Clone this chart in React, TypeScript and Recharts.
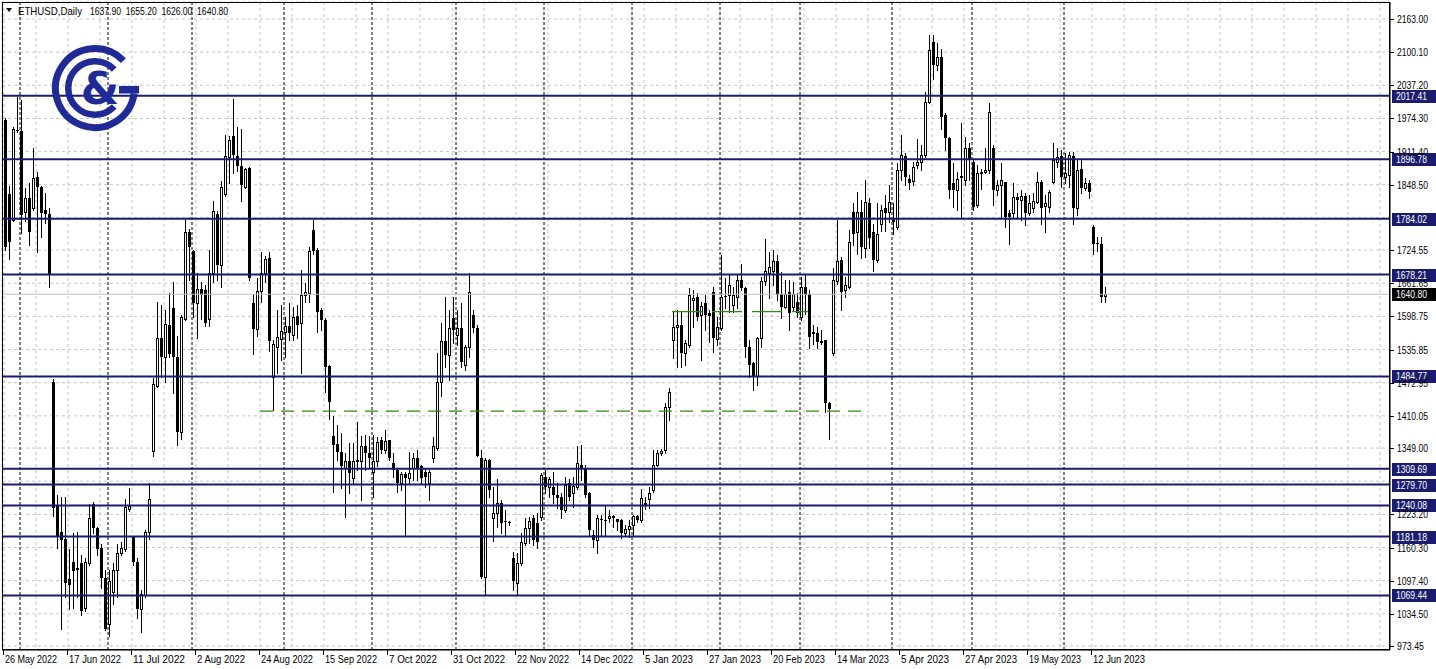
import React from 'react';
import { ComposedChart, Bar, XAxis, YAxis, CartesianGrid, ReferenceLine } from 'recharts';

// ETHUSD daily candles (weekdays), 26 May 2022 .. 16 Jun 2023
const opens = [
  1971,1831,1782,1952,1950,1797,1824,1804,1863,1844,1800,1793,
  1474,1240,1190,1177,1101,1133,1122,1130,1046,1130,1243,1197,1160,1103,1016,1076,1117,1150,1157,1233,1180,1133,1043,1070,1190,
  1343,1467,1557,1521,1582,1614,1521,1380,1594,1758,1722,1624,1650,1648,1594,1681,1793,1696,1831,1901,1941,1903,1885,1845,1880,1624,1575,1647,1681,1709,1484,1541,
  1555,1570,1581,1564,1600,1586,1639,1643,1763,1725,1610,1592,1505,1371,1357,1342,1311,1325,1292,1325,1325,1352,1339,1303,1325,1364,1345,1364,1320,1307,1282,1300,1293,1311,1330,1315,1304,1282,1331,
  1350,1474,1553,1526,1595,1563,1576,1507,1541,1601,1576,1330,1105,1326,1217,1226,1245,1211,1209,1140,1093,1130,1168,1197,1216,1206,1219,1295,1276,1276,
  1260,1257,1231,1282,1263,1276,1317,1310,1263,1184,1175,1214,1213,1216,1221,1215,1212,1187,1195,1203,1220,1212,1245,1252,1269,1317,1339,1345,1426,
  1554,1579,1582,1529,1545,1630,1636,1601,1624,1605,1646,1555,1576,1637,1639,1620,1636,1668,1652,1541,1510,1486,1557,1665,1681,1684,1703,1642,1617,1646,1617,1627,1598,1655,1642,1568,1567,1550,1554,1434,1529,
  1665,1706,1649,1655,1797,1759,1797,1728,1813,1759,1706,1775,1804,1797,1785,1769,1876,1903,1859,1856,1886,1892,1905,2006,2120,2076,2091,1981,1937,1851,1839,1863,1857,1918,1892,1810,1870,1873,1876,1918,1839,1848,1854,1795,1794,1826,1819,1827,1795,1804,1816,1854,1808,1807,1854,1892,1903,1864,1867,1903,1804,1878,1842,1851,1769,1738,1737,1637.9,
];
const highs = [
  1975,1846,1958,2015,2009,1842,1852,1918,1873,1846,1833,1804,
  1480,1260,1257,1257,1157,1187,1190,1147,1140,1243,1247,1200,1167,1117,1117,1130,1167,1170,1253,1273,1180,1140,1080,1193,1283,
  1481,1627,1621,1611,1644,1664,1561,1601,1781,1764,1724,1681,1664,1658,1724,1818,1798,1856,1942,1941,2012,1958,1955,1881,1883,1641,1671,1721,1714,1721,1554,1611,
  1620,1598,1624,1617,1620,1687,1662,1731,1782,1728,1614,1595,1507,1409,1393,1377,1339,1358,1358,1399,1371,1374,1371,1374,1370,1370,1383,1364,1339,1310,1304,1304,1342,1339,1345,1317,1310,1307,1370,
  1529,1586,1636,1611,1636,1611,1624,1545,1681,1611,1582,1345,1330,1329,1276,1291,1250,1231,1210,1152,1149,1187,1216,1219,1222,1225,1301,1307,1295,1304,
  1282,1263,1295,1291,1295,1352,1355,1317,1266,1193,1222,1222,1241,1231,1222,1215,1215,1203,1212,1222,1222,1272,1257,1276,1345,1345,1348,1434,1462,
  1608,1611,1608,1554,1652,1649,1643,1626,1639,1611,1655,1598,1715,1671,1680,1655,1680,1699,1655,1554,1513,1560,1674,1745,1721,1724,1715,1683,1668,1668,1664,1643,1674,1680,1649,1582,1579,1573,1554,1437,1690,
  1782,1712,1674,1763,1813,1835,1819,1858,1823,1775,1813,1810,1829,1848,1813,1890,1943,1908,1867,1892,1936,1924,2025,2133,2133,2117,2107,1984,1940,1889,1873,1965,1940,1927,1895,1886,1879,1918,2003,1924,1857,1889,1854,1800,1851,1832,1838,1832,1829,1832,1873,1857,1829,1838,1927,1918,1914,1908,1911,1911,1898,1898,1861,1857,1772,1750,1750,1655.2,
];
const lows = [
  1725,1708,1779,1948,1757,1780,1734,1801,1721,1750,1776,1654,
  1220,1160,1006,1066,1043,1046,1066,1033,1040,1127,1187,1147,1083,1003,993,1053,1066,1147,1153,1230,1127,1026,1000,1066,1177,
  1334,1464,1484,1474,1521,1454,1354,1367,1591,1668,1597,1557,1594,1581,1581,1664,1668,1654,1828,1851,1871,1875,1818,1843,1668,1527,1561,1627,1664,1534,1421,1491,
  1516,1522,1554,1554,1557,1491,1627,1627,1718,1570,1573,1456,1405,1266,1326,1273,1219,1263,1282,1307,1250,1307,1313,1257,1314,1339,1339,1326,1295,1266,1269,1184,1282,1288,1288,1282,1275,1250,1323,
  1345,1447,1503,1478,1548,1545,1503,1497,1522,1570,1333,1102,1073,1257,1172,1200,1187,1184,1203,1080,1073,1127,1165,1168,1165,1159,1212,1263,1257,1244,
  1235,1216,1228,1250,1238,1272,1288,1257,1184,1162,1149,1184,1184,1209,1200,1193,1178,1184,1181,1184,1209,1209,1234,1235,1266,1314,1336,1339,1402,
  1519,1503,1503,1506,1541,1579,1592,1516,1573,1551,1532,1544,1573,1614,1608,1608,1614,1649,1522,1484,1459,1469,1541,1658,1633,1658,1630,1595,1614,1573,1611,1598,1592,1604,1538,1547,1538,1547,1418,1367,1525,
  1661,1611,1636,1652,1734,1718,1709,1712,1728,1684,1702,1760,1760,1778,1756,1765,1858,1848,1840,1848,1880,1877,1902,2003,2050,2066,1955,1914,1823,1807,1801,1785,1848,1857,1801,1807,1841,1870,1870,1810,1829,1785,1769,1737,1785,1788,1782,1772,1791,1797,1813,1775,1759,1797,1851,1883,1845,1851,1845,1775,1791,1832,1838,1823,1718,1722,1627,1626,
];
const closes = [
  1730,1740,1954,1950,1791,1824,1759,1861,1844,1795,1793,1677,
  1236,1183,1175,1093,1090,1115,1117,1040,1133,1217,1197,1157,1103,1006,1097,1117,1150,1160,1237,1240,1133,1043,1073,1190,1253,
  1471,1557,1521,1584,1527,1521,1379,1597,1758,1731,1624,1651,1640,1587,1681,1798,1696,1845,1903,1933,1905,1885,1849,1878,1671,1574,1647,1681,1708,1553,1546,1559,
  1571,1581,1568,1598,1582,1639,1646,1722,1722,1608,1592,1503,1437,1355,1342,1314,1325,1301,1325,1327,1352,1339,1330,1325,1361,1345,1363,1331,1307,1282,1300,1292,1301,1330,1311,1293,1295,1304,1352,
  1474,1553,1526,1576,1573,1576,1513,1541,1646,1576,1333,1105,1326,1269,1226,1245,1206,1209,1208,1096,1130,1171,1197,1210,1175,1171,1298,1276,1290,1260,
  1254,1231,1279,1257,1277,1320,1310,1260,1194,1175,1216,1213,1212,1221,1216,1209,1187,1195,1201,1221,1212,1254,1240,1264,1317,1339,1343,1426,1455,
  1579,1582,1529,1548,1639,1633,1598,1618,1602,1600,1557,1579,1636,1635,1658,1639,1668,1652,1541,1507,1484,1557,1665,1684,1693,1703,1639,1617,1642,1605,1642,1605,1655,1639,1560,1570,1551,1552,1434,1424,1668,
  1703,1646,1658,1740,1756,1797,1731,1816,1747,1706,1756,1800,1794,1816,1778,1876,1905,1864,1851,1883,1892,1905,2006,2104,2076,2091,1978,1937,1839,1839,1859,1865,1918,1895,1807,1870,1873,1876,1987,1839,1848,1857,1788,1788,1826,1820,1828,1795,1813,1818,1854,1804,1813,1835,1895,1901,1864,1870,1905,1804,1876,1842,1851,1835,1737,1737,1636,1640.8,
];

// bottom axis labels, one every 16 bars
const dateLabels = [
  '26 May 2022', '17 Jun 2022', '11 Jul 2022', '2 Aug 2022', '24 Aug 2022', '15 Sep 2022',
  '7 Oct 2022', '31 Oct 2022', '22 Nov 2022', '14 Dec 2022', '5 Jan 2023', '27 Jan 2023',
  '20 Feb 2023', '14 Mar 2023', '5 Apr 2023', '27 Apr 2023', '19 May 2023', '12 Jun 2023',
];
const priceTicks = [2163.0, 2100.1, 2037.2, 1974.3, 1911.4, 1848.5, 1786.45, 1724.55, 1661.65, 1598.75, 1535.85,
  1472.95, 1410.05, 1349.0, 1286.1, 1223.2, 1160.3, 1097.4, 1034.5, 973.45];
const hiddenTicks = [1786.45, 1286.1];
const levels = [2017.41, 1896.78, 1784.02, 1678.21, 1484.77, 1309.69, 1279.7, 1240.08, 1181.18, 1069.44];
const lastPrice = 1640.8;
// first bar of each month (period separators)
const monthStarts = [4, 26, 47, 70, 92, 113, 135, 157, 179, 199, 222, 242, 265];
const greenLevels = [
  { from: 64, to: 216, price: 1419 },
  { from: 167, to: 201, price: 1607.8 },
];

const SLOTS = 347;
const W = 1436;
const H = 669;
const NAVY = '#1b1c6e';
const GREEN = '#2f8a10';
const F = "'Liberation Sans', Arial, sans-serif";

// narrow text: squeeze glyphs to the width the reference uses
const NText = ({ x, y, text, per, fill = '#000', size = 11 }: any) => (
  <text x={x} y={y} fontSize={size} fontFamily={F} fill={fill}
    textLength={Math.round(text.length * per)} lengthAdjust="spacingAndGlyphs">{text}</text>
);

const data = Array.from({ length: SLOTS }, (_, i) =>
  i < opens.length
    ? { i, o: opens[i], h: highs[i], l: lows[i], c: closes[i], range: [lows[i], highs[i]] }
    : { i, range: null }
);
const xTicks = Array.from({ length: Math.ceil(SLOTS / 8) }, (_, k) => k * 8).filter((v) => v < SLOTS);

const Candle = (props: any) => {
  const { x, y, width, height, payload } = props;
  if (!payload || payload.h == null) return <g />;
  const { o, h, l, c } = payload;
  const top = Math.min(y, y + height);
  const hh = Math.abs(height);
  const k = h > l ? hh / (h - l) : 0;
  const py = (v: number) => Math.round(top + (h - v) * k);
  const cx = Math.round(x + width / 2);
  const yH = py(h);
  const yL = py(l);
  const yO = py(o);
  const yC = py(c);
  const bTop = Math.min(yO, yC);
  const bBot = Math.max(yO, yC);
  const wx = cx + 0.5;
  if (c >= o) {
    return (
      <g>
        <line x1={wx} x2={wx} y1={yH} y2={bTop} stroke="#000" strokeWidth={1} />
        <line x1={wx} x2={wx} y1={bBot} y2={yL + 1} stroke="#000" strokeWidth={1} />
        <rect x={cx - 0.5} y={bTop + 0.5} width={2} height={Math.max(bBot - bTop, 0)} fill="#fff" stroke="#000" strokeWidth={1} />
      </g>
    );
  }
  return (
    <g>
      <line x1={wx} x2={wx} y1={yH} y2={yL + 1} stroke="#000" strokeWidth={1} />
      <rect x={cx - 1} y={bTop} width={3} height={Math.max(bBot - bTop, 1)} fill="#000" />
    </g>
  );
};

const XTick = (p: any) => {
  const i = p.payload?.value;
  if (i % 16 !== 0) return <g />;
  const lbl = dateLabels[i / 16];
  if (!lbl) return <g />;
  const x = Math.round(p.x);
  return (
    <g>
      <line x1={x - 0.5} x2={x - 0.5} y1={650} y2={655} stroke="#000" />
      <NText x={x + 1} y={663} text={lbl} per={4.75} />
    </g>
  );
};

const YTick = (p: any) => {
  const v = p.payload?.value;
  if (v == null || hiddenTicks.includes(v)) return <g />;
  const y = Math.round(p.y);
  return (
    <g>
      <line x1={1390} x2={1394} y1={y + 0.5} y2={y + 0.5} stroke="#000" />
      <NText x={1397} y={y + 4} text={v.toFixed(2)} per={4.45} />
    </g>
  );
};

const AxisTag = (props: any) => {
  const { viewBox, text, bg } = props;
  if (!viewBox) return null;
  const y = Math.round(viewBox.y);
  return (
    <g>
      <rect x={1392} y={y - 6} width={44} height={13} fill={bg} />
      <NText x={1396} y={y + 4} text={text} per={4.45} fill="#fff" />
    </g>
  );
};

export default function App() {
  const last = opens.length - 1;
  const header = [opens[last], highs[last], lows[last], closes[last]].map((v) => v.toFixed(2));
  return (
    <div style={{ position: 'absolute', left: 0, top: 0, width: W, height: H, background: '#fff', overflow: 'hidden' }}>
      <ComposedChart width={W} height={H} data={data} margin={{ top: 2, right: 0, left: 2, bottom: 0 }} barCategoryGap={0}>
        <CartesianGrid stroke="#c4c4c4" strokeDasharray="3 3" />
        <XAxis dataKey="i" type="category" ticks={xTicks} interval={0} height={19}
          axisLine={{ stroke: '#000' }} tickLine={false} tick={<XTick />} />
        <YAxis orientation="right" type="number" domain={[965.86, 2195.25]} ticks={priceTicks} interval={0}
          width={46} allowDataOverflow axisLine={{ stroke: '#000' }} tickLine={false} tick={<YTick />} />
        {monthStarts.map((m) => (
          <ReferenceLine key={'m' + m} x={m} stroke="#000" strokeDasharray="3 2" strokeWidth={1} />
        ))}
        <Bar dataKey="range" barSize={3} shape={<Candle />} isAnimationActive={false} />
        {greenLevels.map((g, k) => (
          <ReferenceLine key={'g' + k} segment={[{ x: g.from, y: g.price }, { x: g.to, y: g.price }]}
            stroke={GREEN} strokeWidth={1.4} strokeDasharray={k === 0 ? '13 8' : '30 10'} />
        ))}
        <ReferenceLine y={lastPrice} stroke="#c0c0c0" strokeWidth={1}
          label={<AxisTag text={lastPrice.toFixed(2)} bg="#000" />} />
        {levels.map((v) => (
          <ReferenceLine key={'l' + v} y={v} stroke={NAVY} strokeWidth={2}
            label={<AxisTag text={v.toFixed(2)} bg={NAVY} />} />
        ))}
      </ComposedChart>
      <svg width={W} height={H} style={{ position: 'absolute', left: 0, top: 0, pointerEvents: 'none' }}>
        <rect x={2.5} y={2.5} width={1387} height={647} fill="none" stroke="#000" strokeWidth={1} />
        <polygon points="6,8 12,8 9,12" fill="#000" />
        <NText x={18} y={15} text="ETHUSD,Daily" per={5.3} />
        {header.map((t, k) => (
          <NText key={k} x={90 + k * 35.7} y={15} text={t} per={4.45} />
        ))}
        <g fill="none" stroke="#1f2a96">
          <path d="M 123.4 60.6 A 39.5 39.5 0 1 0 134.1 93.5" strokeWidth={7} />
          <path d="M 114.2 69.5 A 26.7 26.7 0 1 0 114.2 106.5" strokeWidth={6.5} />
        </g>
        <rect x={119} y={86} width={20} height={7.5} fill="#1f2a96" />
        <text x={100} y={104} textAnchor="middle" fontSize={44} fontWeight="bold" fontFamily="'DejaVu Sans', sans-serif" fill="#1f2a96">&amp;</text>
      </svg>
    </div>
  );
}
